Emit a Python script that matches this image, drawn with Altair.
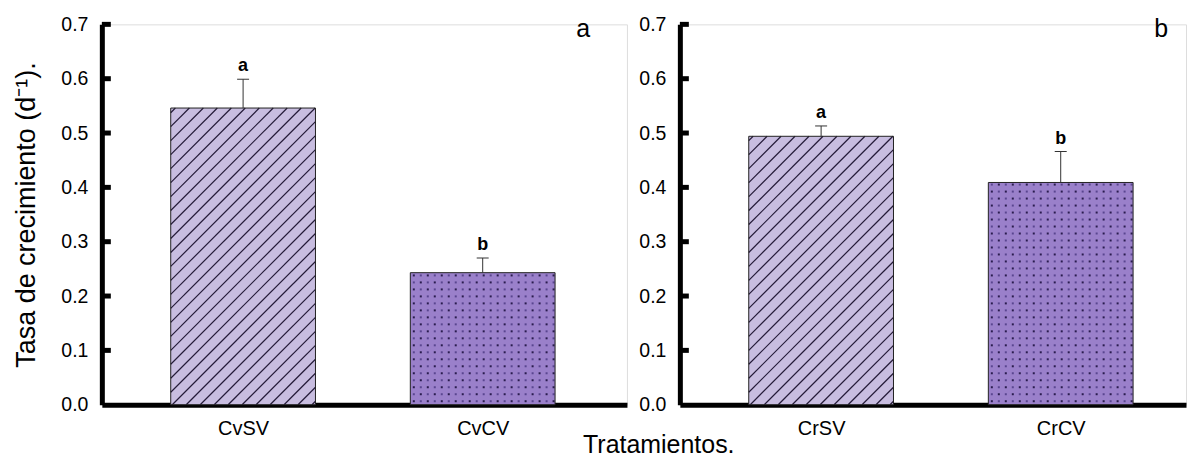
import json
import altair as alt
import pandas as pd

# ---------------- data ----------------
cats_a = ["CvSV", "CvCV"]
means_a = [0.546, 0.243]
errs_a = [0.053, 0.027]
sig_a = ["a", "b"]

cats_b = ["CrSV", "CrCV"]
means_b = [0.494, 0.409]
errs_b = [0.019, 0.057]
sig_b = ["a", "b"]

patterns = ["hatch", "dots"]
panel_tags = ["a", "b"]
y_ticks = [0.0, 0.1, 0.2, 0.3, 0.4, 0.5, 0.6, 0.7]
y_title = "Tasa de crecimiento (d\u207b\u00b9)."
x_title = "Tratamientos."

# ---------------- layout / style constants ----------------
FONT = "Liberation Sans"
H = 381                 # plot height in px (0 .. 0.7)
W_A = 526               # left plot width
W_B = 507               # right plot width (clipped by page edge in reference)
PX_IDX = 240.0          # px per category index unit
PX_VAL = H / 0.7        # px per value unit
HALF = 72.5 / PX_IDX    # half bar width in index units
LO = 1 - 141.5 / PX_IDX # left end of the x domain
HATCH_S = 14.0          # hatch spacing (px, horizontal)
DOT_S = 7.0             # dot grid spacing (px)
FILL = ["#c8bde0", "#9a80ca"]


def panel(cats, means, errs, sig, tag, width, show_title, show_xtitle):
    df = pd.DataFrame({
        "cat": cats,
        "idx": list(range(1, len(cats) + 1)),
        "mean": means,
        "err": errs,
        "sig": sig,
        "pattern": patterns,
    })
    hi = LO + width / PX_IDX
    xs = alt.Scale(domain=[LO, hi], nice=False, zero=False)
    ys = alt.Scale(domain=[0, 0.7], nice=False)
    xaxis = alt.Axis(values=[1, 2], labelExpr=f"{json.dumps(cats)}[datum.value - 1]",
                     ticks=False, grid=False, domainWidth=5, domainColor="black",
                     labelFontSize=20, labelPadding=14, labelColor="black",
                     labelFont=FONT, labelFlush=False, title="")
    yaxis = alt.Axis(values=y_ticks, format=".1f", ticks=False, grid=False,
                     domainWidth=5, domainColor="black", labelFontSize=19.5,
                     labelPadding=14, labelColor="black", labelFont=FONT,
                     labelFlush=False, labelOverlap=False,
                     title=y_title if show_title else "",
                     titleFontSize=27, titleFont=FONT, titleFontWeight="normal",
                     titleColor="black", titlePadding=20)

    def X(f):
        return alt.X(f, type="quantitative", scale=xs, axis=xaxis)

    def Y(f):
        return alt.Y(f, type="quantitative", scale=ys, axis=yaxis)

    base = alt.Chart(df).transform_calculate(
        x0=f"datum.idx - {HALF}",
        x1=f"datum.idx + {HALF}",
        cx0=f"datum.idx - {6 / PX_IDX}",
        cx1=f"datum.idx + {6 / PX_IDX}",
        up="datum.mean + datum.err",
        z="0",
    )

    bars = base.mark_rect(strokeWidth=0).encode(
        x=X("x0"), x2="x1", y=Y("mean"), y2="z",
        color=alt.condition("datum.pattern == 'hatch'", alt.value(FILL[0]), alt.value(FILL[1])),
    )

    hatch = base.transform_filter("datum.pattern == 'hatch'").transform_calculate(
        w=f"{2 * HALF * PX_IDX}", h=f"datum.mean * {PX_VAL}"
    ).transform_calculate(
        ks=f"sequence(0, ceil((datum.w + datum.h) / {HATCH_S}) + 1)"
    ).transform_flatten(["ks"], as_=["k"]).transform_calculate(
        d=f"-datum.w + (datum.k + 0.25) * {HATCH_S}"
    ).transform_calculate(
        u0="max(0, -datum.d)", u1="min(datum.w, datum.h - datum.d)"
    ).transform_filter("datum.u1 > datum.u0 + 0.5").transform_calculate(
        hx0=f"datum.idx - {HALF} + datum.u0 / {PX_IDX}",
        hx1=f"datum.idx - {HALF} + datum.u1 / {PX_IDX}",
        hy0=f"(datum.u0 + datum.d) / {PX_VAL}",
        hy1=f"(datum.u1 + datum.d) / {PX_VAL}",
    ).mark_rule(color="#241a38", strokeWidth=1.2).encode(
        x=X("hx0"), x2="hx1", y=Y("hy0"), y2="hy1"
    )

    dots = base.transform_filter("datum.pattern == 'dots'").transform_calculate(
        w=f"{2 * HALF * PX_IDX}", h=f"datum.mean * {PX_VAL}"
    ).transform_calculate(
        cs=f"sequence(0, floor((datum.w - 4.5) / {DOT_S}) + 1)",
        rs=f"sequence(0, floor((datum.h - 4.5) / {DOT_S}) + 1)",
    ).transform_flatten(["cs"], as_=["ci"]).transform_flatten(["rs"], as_=["ri"]).transform_calculate(
        dx=f"datum.idx - {HALF} + (3.5 + datum.ci * {DOT_S}) / {PX_IDX}",
        dy=f"(3.5 + datum.ri * {DOT_S}) / {PX_VAL}",
        shade="(datum.ci + datum.ri) % 2 == 0 ? 'd' : 'l'",
    ).mark_square(size=4, opacity=1, strokeWidth=0).encode(
        x=X("dx"), y=Y("dy"),
        color=alt.condition("datum.shade == 'd'", alt.value("#2a1c4e"), alt.value("#5a4690")),
    )

    outline = base.mark_rect(fillOpacity=0, stroke="#222222", strokeWidth=1).encode(
        x=X("x0"), x2="x1", y=Y("mean"), y2="z"
    )

    err_line = base.mark_rule(color="#333333", strokeWidth=1).encode(
        x=X("idx"), y=Y("mean"), y2="up"
    )
    err_cap = base.mark_rule(color="#333333", strokeWidth=1).encode(
        x=X("cx0"), x2="cx1", y=Y("up")
    )

    letters = base.mark_text(font=FONT, fontSize=18, fontWeight="bold", dy=-8,
                             baseline="alphabetic", color="black").encode(
        x=X("idx"), y=Y("up"), text="sig:N"
    )

    tick_df = pd.DataFrame({"v": y_ticks[1:]})
    inner_ticks = alt.Chart(tick_df).mark_rule(color="black", strokeWidth=5).encode(
        y=Y("v"), x=alt.value(0), x2=alt.value(9)
    )

    tag_text = alt.Chart(pd.DataFrame({"t": [tag]})).mark_text(
        font=FONT, fontSize=25, align="right", baseline="alphabetic", color="black"
    ).encode(text="t:N", x=alt.value(489), y=alt.value(13))

    layers = [bars, hatch, dots, outline, err_line, err_cap, letters, inner_ticks, tag_text]
    if show_xtitle:
        xt = alt.Chart(pd.DataFrame({"t": [x_title]})).mark_text(
            font=FONT, fontSize=25, align="left", baseline="alphabetic", color="black"
        ).encode(text="t:N", x=alt.value(482), y=alt.value(429))
        layers.append(xt)

    return alt.layer(*layers).properties(width=width, height=H)


left = panel(cats_a, means_a, errs_a, sig_a, panel_tags[0], W_A, True, True)
right = panel(cats_b, means_b, errs_b, sig_b, panel_tags[1], W_B, False, False)

chart = alt.hconcat(left, right, spacing=53, bounds="flush").properties(
    padding={"left": 4, "top": 5, "right": 0, "bottom": 0}
).configure_view(stroke=None).configure(font=FONT)

chart.save("out.html", embed_options={"renderer": "svg", "actions": False})
